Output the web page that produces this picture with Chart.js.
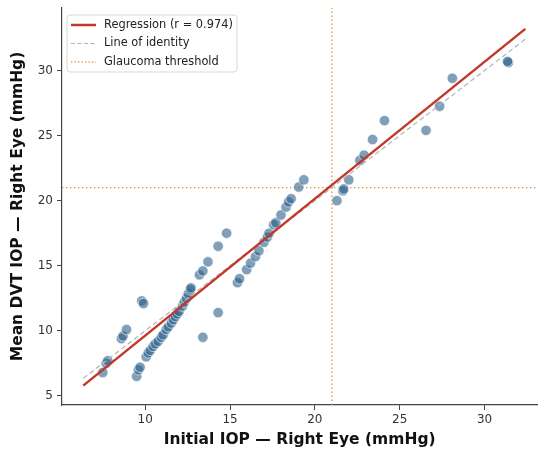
<!DOCTYPE html>
<html>
<head>
<meta charset="utf-8">
<script src="https://cdn.jsdelivr.net/npm/chart.js@4.4.1/dist/chart.umd.min.js"></script>
<style>
  html, body { margin: 0; padding: 0; background: #fff; }
  #wrap { width: 543px; height: 453px; position: relative; }
</style>
</head>
<body>
<div id="wrap"><canvas id="chart-iop"></canvas></div>
<script>
// initial IOP (x) and mean DVT IOP (y), right eye, mmHg
const initialIop = [
  7.5, 7.7, 7.8, 8.6, 8.7, 8.9, 9.8, 9.9, 9.5, 9.6, 9.7,
  10.06, 10.18, 10.3, 10.47, 10.6, 10.77, 10.95, 11.06, 11.24, 11.36, 11.54,
  11.66, 11.78, 11.9, 12.0, 12.2, 12.3, 12.43, 12.54, 12.66, 12.7,
  13.2, 13.4, 13.7, 14.3, 14.8, 14.3, 13.4,
  15.44, 15.56, 15.98, 16.21, 16.5, 16.7, 17.0, 17.2, 17.3, 17.57, 17.7,
  18.0, 18.3, 18.45, 18.6, 19.05, 19.35,
  21.3, 21.65, 21.7, 22.0, 22.65, 22.9, 23.4, 24.1, 26.55, 27.35, 28.1, 31.4, 31.35
];
const meanDvtIop = [
  6.8, 7.5, 7.7, 9.4, 9.6, 10.1, 12.3, 12.1, 6.5, 7.0, 7.2,
  8.0, 8.3, 8.5, 8.8, 9.0, 9.2, 9.5, 9.7, 10.1, 10.3, 10.6,
  10.85, 11.1, 11.3, 11.5, 11.9, 12.2, 12.5, 12.85, 13.15, 13.3,
  14.3, 14.6, 15.3, 16.5, 17.5, 11.4, 9.5,
  13.7, 14.0, 14.7, 15.2, 15.7, 16.15, 16.8, 17.2, 17.5, 18.15, 18.3,
  18.9, 19.5, 19.9, 20.15, 21.05, 21.6,
  20.0, 20.75, 20.9, 21.6, 23.1, 23.5, 24.7, 26.15, 25.4, 27.25, 29.4, 30.6, 30.7
];

// regression fit
const regSlope = 1.052;
const regIntercept = -0.89;
const regR = 0.974;
const lineRange = [6.35, 32.4];
const threshold = 21;

const xTicks = [10, 15, 20, 25, 30];
const yTicks = [5, 10, 15, 20, 25, 30];
const xLimits = [5.1, 33.1];
const yLimits = [4.3, 34.8];

const scatterPoints = initialIop.map((x, i) => ({ x: x, y: meanDvtIop[i] }));
const regPoints = lineRange.map((x) => ({ x: x, y: regSlope * x + regIntercept }));
const identityPoints = lineRange.map((x) => ({ x: x, y: x }));

const redLine = '#c0392b';
const greyDash = '#b3b3b3';
const orangeDot = 'rgba(230, 126, 34, 0.85)';
const axisCol = '#444';
const font = "'DejaVu Sans', sans-serif";

// legend drawn inside the plot, top left, like matplotlib
const boxLegend = {
  id: 'boxLegend',
  afterDraw(chart) {
    const ctx = chart.ctx;
    const area = chart.chartArea;
    const x0 = area.left + 5, y0 = area.top + 7;
    const w = 170, h = 57;
    const rows = [
      { label: 'Regression (r = ' + regR.toFixed(3) + ')', color: redLine, width: 2.5, dash: [] },
      { label: 'Line of identity', color: greyDash, width: 1.2, dash: [4, 2.5] },
      { label: 'Glaucoma threshold', color: orangeDot, width: 1.3, dash: [1.3, 2.2] },
    ];
    ctx.save();
    ctx.beginPath();
    ctx.roundRect(x0, y0, w, h, 3);
    ctx.fillStyle = 'rgba(255,255,255,0.85)';
    ctx.fill();
    ctx.strokeStyle = '#d6d6d6';
    ctx.lineWidth = 1;
    ctx.stroke();
    ctx.font = '11.4px ' + font;
    ctx.textBaseline = 'middle';
    rows.forEach((r, i) => {
      const yy = y0 + 10 + i * 18.5;
      ctx.beginPath();
      ctx.setLineDash(r.dash);
      ctx.strokeStyle = r.color;
      ctx.lineWidth = r.width;
      ctx.moveTo(x0 + 4, yy);
      ctx.lineTo(x0 + 29, yy);
      ctx.stroke();
      ctx.setLineDash([]);
      ctx.fillStyle = '#222';
      ctx.fillText(r.label, x0 + 37, yy);
    });
    ctx.restore();
  },
};

const ctx = document.getElementById('chart-iop').getContext('2d');
new Chart(ctx, {
  type: 'scatter',
  data: {
    datasets: [
      {
        label: 'Regression',
        type: 'line',
        data: regPoints,
        borderColor: redLine,
        borderWidth: 2.5,
        pointRadius: 0,
        order: 0,
      },
      {
        label: 'Line of identity',
        type: 'line',
        data: identityPoints,
        borderColor: greyDash,
        borderWidth: 1.2,
        borderDash: [5, 3],
        pointRadius: 0,
        order: 1,
      },
      {
        label: 'Patients',
        data: scatterPoints,
        backgroundColor: 'rgba(44, 95, 138, 0.6)',
        borderColor: '#ffffff',
        borderWidth: 0.6,
        pointRadius: 5.2,
        order: 2,
      },
      {
        label: 'Glaucoma threshold',
        type: 'line',
        data: [{ x: threshold, y: yLimits[0] }, { x: threshold, y: yLimits[1] }],
        borderColor: orangeDot,
        borderWidth: 1.4,
        borderDash: [1.4, 2.6],
        pointRadius: 0,
        order: 3,
      },
      {
        label: 'threshold-h',
        type: 'line',
        data: [{ x: xLimits[0], y: threshold }, { x: xLimits[1], y: threshold }],
        borderColor: orangeDot,
        borderWidth: 1.4,
        borderDash: [1.4, 2.6],
        pointRadius: 0,
        order: 3,
      },
    ],
  },
  options: {
    responsive: true,
    maintainAspectRatio: false,
    animation: false,
    layout: { padding: { top: 8, right: 0, left: 0, bottom: 0 } },
    plugins: {
      legend: { display: false },
      tooltip: { enabled: false },
    },
    scales: {
      x: {
        type: 'linear',
        min: xLimits[0],
        max: xLimits[1],
        afterBuildTicks: (s) => { s.ticks = xTicks.map((v) => ({ value: v })); },
        afterFit: (s) => { s.height = 48; s.paddingLeft = 0; s.paddingRight = 0; },
        grid: { drawOnChartArea: false, drawTicks: true, tickLength: 5, color: axisCol, tickWidth: 1 },
        border: { display: true, color: axisCol, width: 1.2 },
        ticks: { color: '#333', padding: 3, font: { family: font, size: 12 } },
        title: {
          display: true,
          text: 'Initial IOP — Right Eye (mmHg)',
          color: '#111',
          font: { family: font, size: 15.5, weight: 'bold', lineHeight: 1.2 },
          padding: { top: 0, bottom: 4 },
        },
      },
      y: {
        type: 'linear',
        min: yLimits[0],
        max: yLimits[1],
        afterBuildTicks: (s) => { s.ticks = yTicks.map((v) => ({ value: v })); },
        afterFit: (s) => { s.width = 62; s.paddingTop = 0; s.paddingBottom = 0; },
        grid: { drawOnChartArea: false, drawTicks: true, tickLength: 5, color: axisCol, tickWidth: 1 },
        border: { display: true, color: axisCol, width: 1.2 },
        ticks: { color: '#333', padding: 4, font: { family: font, size: 12 } },
        title: {
          display: true,
          text: 'Mean DVT IOP — Right Eye (mmHg)',
          color: '#111',
          font: { family: font, size: 15.5, weight: 'bold', lineHeight: 1.2 },
          padding: { top: 9, bottom: 0 },
        },
      },
    },
  },
  plugins: [boxLegend],
});
</script>
</body>
</html>
